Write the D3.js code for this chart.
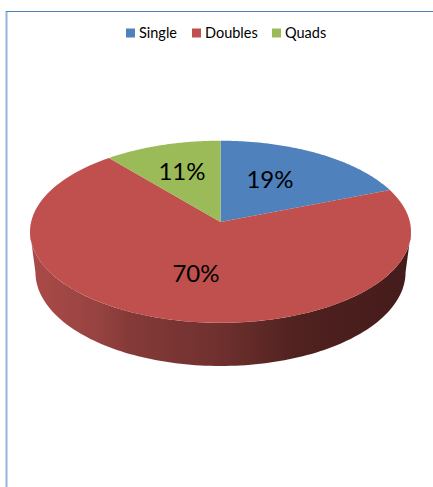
<!DOCTYPE html>
<html>
<head>
<meta charset="utf-8">
<style>
html,body{margin:0;padding:0;background:#fff;overflow:hidden}
svg{display:block}
text{font-family:Lato,"Open Sans",sans-serif;fill:#000}
</style>
<script src="https://cdn.jsdelivr.net/npm/d3@7/dist/d3.min.js"></script>
</head>
<body>
<div id="chart"></div>
<script>
const categories = ["Single", "Doubles", "Quads"];
const shares = [19, 70, 11];
const labels = ["19%", "70%", "11%"];
const colors = ["#4f81bd", "#c0504d", "#9bbb59"];
const wallStops = [
  [0, "#ab4a48"], [0.18, "#964341"], [0.26, "#853a38"],
  [0.5, "#6e302e"], [0.71, "#4f211f"], [1, "#451b1b"]
];

const W = 433, H = 487;
const svg = d3.select("#chart").append("svg").attr("width", W).attr("height", H);

// frame
svg.append("line").attr("x1", 6.5).attr("x2", 6.5).attr("y1", 11).attr("y2", H)
  .attr("stroke", "#95b3dd").attr("stroke-width", 2);
svg.append("line").attr("x1", 6).attr("x2", W).attr("y1", 11.5).attr("y2", 11.5)
  .attr("stroke", "#4f81bd").attr("stroke-width", 1);

// perspective projection of the disc's rim
const p = 0.107;
const topDisc = {cx: 220.5, cy: 222, kx: 189.4, ky: 90};
const baseDisc = {cx: 220.5, cy: 262.2, kx: 184, ky: 92.7};
const project = (a, d) => {
  const X = Math.sin(a), Y = Math.cos(a), w = 1 + p * Y;
  return [d.cx + d.kx * X / w, d.cy - d.ky * Y / w];
};
const arcPoints = (a0, a1, d) => d3.range(0, 121).map(i => project(a0 + (a1 - a0) * i / 120, d));
const line = d3.line();

const pie = d3.pie().sort(null).value(d => d);
const arcs = pie(shares);

// wall
const grad = svg.append("defs").append("linearGradient").attr("id", "wall")
  .attr("gradientUnits", "userSpaceOnUse").attr("x1", 30).attr("x2", 411).attr("y1", 0).attr("y2", 0);
grad.selectAll("stop").data(wallStops).join("stop")
  .attr("offset", d => d[0]).attr("stop-color", d => d[1]);

const aR = Math.PI / 2 + p, aL = Math.PI * 1.5 - p;
svg.append("path")
  .attr("d", line([...arcPoints(aR, aL, topDisc), ...arcPoints(aL, aR, baseDisc)]) + "Z")
  .attr("fill", "url(#wall)");

// top face
svg.selectAll("path.slice").data(arcs).join("path").attr("class", "slice")
  .attr("d", d => line([[topDisc.cx, topDisc.cy], ...arcPoints(d.startAngle, d.endAngle, topDisc)]) + "Z")
  .attr("fill", (d, i) => colors[i]);

// data labels
const labelPos = [[270, 188], [196, 282], [182, 180]];
svg.selectAll("text.lab").data(labels).join("text").attr("class", "lab")
  .attr("x", (d, i) => labelPos[i][0]).attr("y", (d, i) => labelPos[i][1])
  .attr("text-anchor", "middle").attr("font-size", 24).text(d => d);

// legend
const legendX = [126, 192, 272];
const lg = svg.selectAll("g.lg").data(categories).join("g").attr("class", "lg");
lg.append("rect").attr("x", (d, i) => legendX[i]).attr("y", 28.5).attr("width", 9).attr("height", 9)
  .attr("fill", (d, i) => colors[i]);
lg.append("text").attr("x", (d, i) => legendX[i] + 13).attr("y", 38).attr("font-size", 14.5).text(d => d);
</script>
</body>
</html>
